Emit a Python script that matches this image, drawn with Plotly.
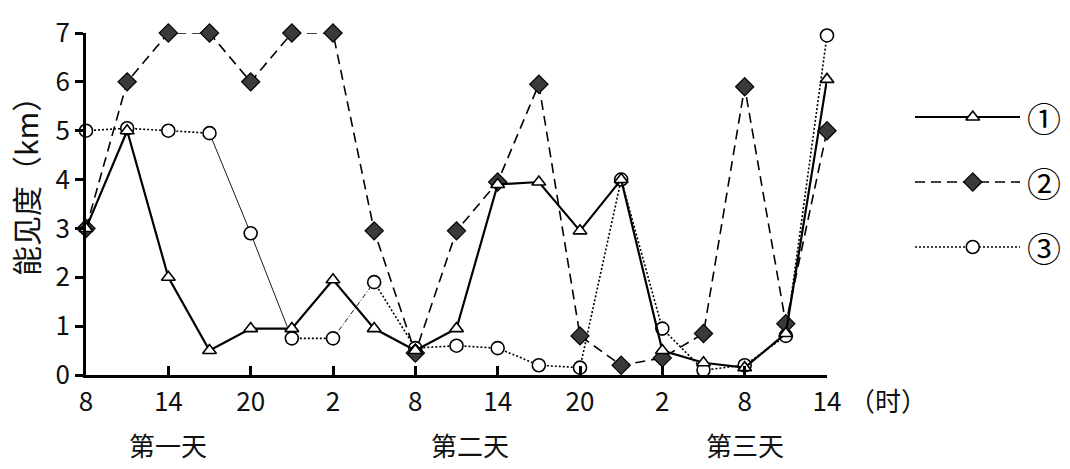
import plotly.graph_objects as go

# hours since 08:00 of day 1, every 3 hours
hours = [0, 3, 6, 9, 12, 15, 18, 21, 24, 27, 30, 33, 36, 39, 42, 45, 48, 51, 54]
tick_hours = [0, 6, 12, 18, 24, 30, 36, 42, 48, 54]
tick_labels = ["8", "14", "20", "2", "8", "14", "20", "2", "8", "14"]

s1 = [3.0, 5.0, 2.0, 0.5, 0.95, 0.95, 1.95, 0.95, 0.5, 0.95, 3.9, 3.95, 2.95, 4.0,
      0.5, 0.25, 0.15, 0.85, 6.05]
s2 = [3.0, 6.0, 7.0, 7.0, 6.0, 7.0, 7.0, 2.95, 0.45, 2.95, 3.95, 5.95, 0.8, 0.2,
      0.35, 0.85, 5.9, 1.05, 5.0]
s3 = [5.0, 5.05, 5.0, 4.95, 2.9, 0.75, 0.75, 1.9, 0.55, 0.6, 0.55, 0.2, 0.15, 4.0,
      0.95, 0.1, 0.2, 0.8, 6.95]

# line style of each segment of series ③ (as drawn in the original figure)
s3_segment_styles = ["dot", "dot", "dot", "thin", "thin", "dot", "dashdot", "dot",
                     "dot", "dot", "dot", "dot", "dot", "dot", "dot", "dot", "dot", "dot"]

series_names = ["①", "②", "③"]
day_labels = ["第一天", "第二天", "第三天"]
day_label_hours = [6, 28, 48]

FONT = "Noto Sans CJK SC"
styles = [
    dict(line=dict(color="black", width=2.2, dash="solid"),
         marker=dict(symbol="triangle-up", size=12, color="white",
                     line=dict(color="black", width=1.6))),
    dict(line=dict(color="black", width=1.6, dash="10px,6px"),
         marker=dict(symbol="diamond", size=14, color="#3a3a3a",
                     line=dict(color="black", width=1.2))),
    dict(line=dict(color="black", width=1.6, dash="2px,2px"),
         marker=dict(symbol="circle", size=13, color="white",
                     line=dict(color="black", width=1.6))),
]
seg_line = {
    "dot": dict(color="black", width=1.6, dash="2px,2px"),
    "thin": dict(color="black", width=0.9, dash="solid"),
    "dashdot": dict(color="black", width=0.9, dash="5px,2px,1px,2px"),
}
data = [s1, s2, s3]

fig = go.Figure()

# series ③: segment lines, then markers
for i, sty in enumerate(s3_segment_styles):
    fig.add_trace(go.Scatter(x=hours[i:i + 2], y=s3[i:i + 2], mode="lines",
                             line=seg_line[sty], cliponaxis=False,
                             showlegend=False, hoverinfo="skip"))
fig.add_trace(go.Scatter(x=hours, y=s3, mode="markers", marker=styles[2]["marker"],
                         cliponaxis=False, showlegend=False, name=series_names[2]))

for idx in [1, 0]:
    st = styles[idx]
    fig.add_trace(go.Scatter(x=hours, y=data[idx], mode="lines+markers",
                             line=st["line"], marker=st["marker"],
                             cliponaxis=False, showlegend=False,
                             name=series_names[idx]))

# custom legend on its own axes
for row, st in enumerate(styles):
    fig.add_trace(go.Scatter(x=[0, 1], y=[row, row], mode="lines", line=st["line"],
                             xaxis="x2", yaxis="y2", showlegend=False,
                             hoverinfo="skip", cliponaxis=False))
    fig.add_trace(go.Scatter(x=[0.55], y=[row], mode="markers", marker=st["marker"],
                             xaxis="x2", yaxis="y2", showlegend=False,
                             hoverinfo="skip", cliponaxis=False))
    fig.add_annotation(x=1, y=row, xref="x2", yref="y2", text=series_names[row],
                       showarrow=False, xanchor="left", xshift=5,
                       font=dict(size=34, family=FONT, color="black"))

W, H = 1070, 469
L, T, R = 86, 33, 10
B = H - 375
pw = W - L - R
x_end = (827 - L) / pw

fig.update_layout(
    width=W, height=H, autosize=False,
    margin=dict(l=L, r=R, t=T, b=B, autoexpand=False),
    paper_bgcolor="white", plot_bgcolor="white",
    font=dict(family=FONT, size=26, color="#111"),
    xaxis=dict(domain=[0, x_end], range=[0, 54], tickvals=tick_hours,
               ticktext=tick_labels, showline=True, linecolor="black",
               linewidth=2.5, ticks="inside", ticklen=9, tickwidth=2.5,
               tickcolor="black", showgrid=False, zeroline=False,
               automargin=False,
               ticklabelstandoff=2, tickfont=dict(size=26, family=FONT)),
    yaxis=dict(range=[0, 7], tickvals=list(range(8)), showline=True,
               linecolor="black", linewidth=2.5, ticks="outside", ticklen=8,
               tickwidth=2.5, tickcolor="black", showgrid=False,
               automargin=False,
               zeroline=False, tickfont=dict(size=26, family=FONT)),
    xaxis2=dict(domain=[(915 - L) / pw, (1020 - L) / pw], range=[0, 1],
                visible=False, anchor="y2", automargin=False),
    yaxis2=dict(domain=[0, 1], range=[(375 - 117) / 65, (33 - 117) / 65],
                visible=False, anchor="x2", automargin=False),
)

for txt, hx in zip(day_labels, day_label_hours):
    fig.add_annotation(x=hx, y=0, xref="x", yref="paper", yshift=-69,
                       text=txt, showarrow=False, yanchor="middle",
                       font=dict(size=26, family=FONT, color="#111"))

fig.add_annotation(x=54, y=0, xref="x", yref="paper", yshift=-24, xshift=20,
                   text="（时）", showarrow=False, xanchor="left", yanchor="middle",
                   font=dict(size=26, family=FONT, color="#111"))

fig.add_annotation(x=0, y=(375 - 179) / 342, xref="paper", yref="paper",
                   xshift=-61, text="能见度（km）", textangle=-90, showarrow=False,
                   xanchor="center", yanchor="middle",
                   font=dict(size=30, family=FONT, color="#111"))

fig.write_html("out.html", config={"displayModeBar": False},
               post_script="document.body.style.margin='0';"
                           "document.body.style.overflow='hidden';"
                           "document.documentElement.style.overflow='hidden';")
